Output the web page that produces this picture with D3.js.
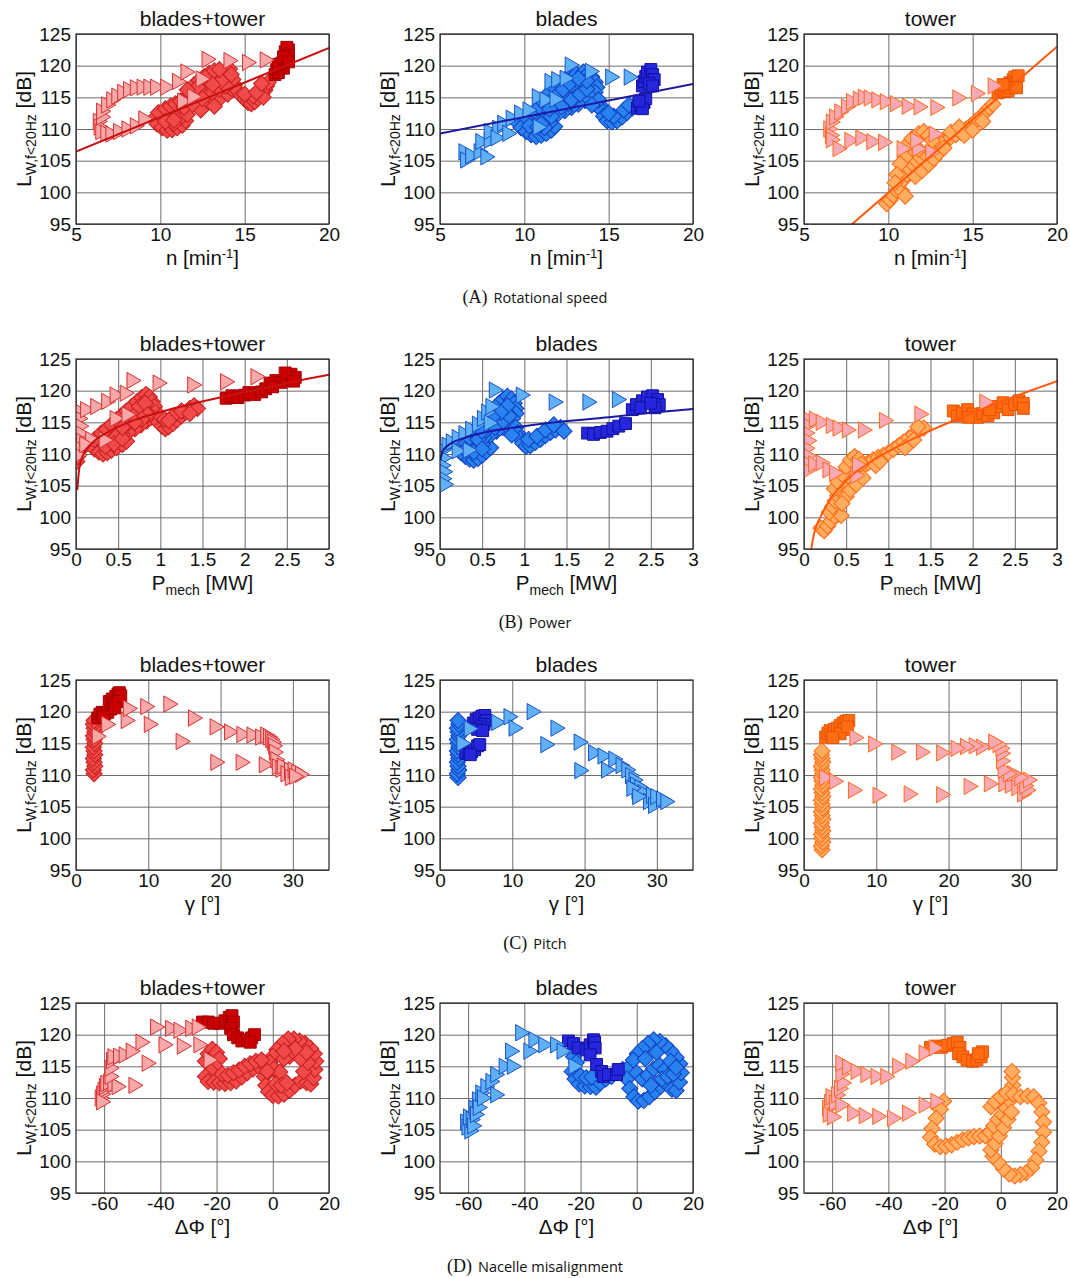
<!DOCTYPE html>
<html>
<head>
<meta charset="utf-8">
<script src="https://cdn.jsdelivr.net/npm/d3@7"></script>
<style>
  body { margin: 0; background: #fff; }
  text { font-family: "Liberation Sans", Arial, sans-serif; fill: #111; }
</style>
</head>
<body>
<svg id="fig" width="1070" height="1278"></svg>
<script>
// ---------- data ----------
var levelTicks = [95, 100, 105, 110, 115, 120, 125];
var rpmTicks = [5, 10, 15, 20];
var powerTicks = [0, 0.5, 1, 1.5, 2, 2.5, 3];
var pitchTicks = [0, 10, 20, 30];
var yawTicks = [-60, -40, -20, 0, 20];
var columnTitles = ["blades+tower", "blades", "tower"];

// (A) rotational speed n [1/min]
var rpmBothTri = [[6.3,111.2],[6.35,110.3],[6.45,109.6],[6.5,111.9],[6.75,109.3],[7.05,109.2],[7.5,109.6],[8.0,110.0],[8.5,110.5],[9.0,111.6],
  [6.5,112.8],[6.8,113.8],[7.1,114.6],[7.4,115.2],[7.75,115.8],[8.1,116.2],[8.5,116.5],[8.9,116.6],[9.3,116.6],[9.7,116.6],[10.3,116.6],[11.0,117.5],[11.5,119.0],
  [12.75,121.0],[14.05,120.8],[15.15,120.5],[16.2,120.9],[11.3,114.4],[11.9,115.1],[12.4,117.9]];
var rpmBothDia = [[9.7,111.8],[9.8,110.8],[10.1,110.2],[10.4,109.8],[10.7,109.9],[11.0,110.2],[11.3,110.6],[11.5,111.3],[11.2,111.8],[10.9,112.2],[10.6,112.6],[10.2,112.4],[9.9,112.6],
  [10.3,113.2],[10.6,113.6],[10.9,114.0],[11.2,114.4],[11.5,114.9],[11.8,115.4],[12.1,115.9],[12.4,116.4],[12.7,116.9],[13.0,117.5],[13.3,118.1],[13.6,118.7],[13.9,119.2],[14.1,119.5],
  [12.0,117.0],[12.3,117.7],[12.6,118.3],[12.9,118.8],[13.2,119.2],
  [12.0,114.2],[12.4,114.0],[12.8,114.3],[13.2,114.6],[13.6,115.0],[14.0,115.5],[14.3,116.2],[14.4,117.0],[14.3,117.8],[14.2,118.6],
  [14.6,116.0],[14.8,115.3],[15.0,114.7],[15.2,114.2],[15.4,114.0],[15.6,114.3],[15.8,114.8],[16.0,115.4],[16.2,116.1],[16.3,116.8],[16.4,117.4],[16.1,115.0],[15.5,115.2],
  [10.8,110.9],[11.6,112.3],[12.4,113.0],[13.2,113.6],
  [12.6,115.3],[13.1,115.8],[13.5,116.3],[13.9,116.8],[13.6,117.6],[13.1,117.0],[12.2,116.6],[11.6,116.2],[11.4,113.4],[11.9,113.9],[12.5,114.8],[13.5,119.4],
  [10.3,111.2],[10.8,111.4],[15.0,115.5],[15.7,115.8],[16.0,117.2]];
var rpmBothSq = [[16.8,118.6],[16.9,119.4],[17.0,118.9],[17.1,119.8],[17.2,120.4],[17.3,119.6],[17.0,120.2],[17.4,121.0],[17.5,121.6],[17.4,122.2],[17.6,122.5],[17.5,122.9],[17.6,121.6],[17.3,121.4],[17.6,120.6]];
var rpmBothFit = [[5, 106.45], [20, 122.8]];

var rpmBladeTri = [[6.4,106.4],[6.5,105.1],[6.8,105.8],[7.3,106.4],[7.7,105.6],[7.4,108.0],[7.9,108.2],[7.9,109.6],[8.4,110.1],[8.7,110.9],[9.2,111.7],[9.7,112.5],[10.2,113.0],
  [10.75,115.1],[11.5,117.5],[11.9,117.8],[12.4,118.0],[12.7,120.1],[13.9,119.1],[15.1,118.2],[16.2,118.2],[8.3,108.6],[9.0,109.3],[10.8,110.3],[11.2,114.6],[11.8,114.7]];
var rpmBladeDia = [[9.6,111.0],[9.8,110.2],[10.1,109.6],[10.4,109.1],[10.7,108.8],[11.0,109.0],[11.3,109.3],[11.6,109.8],[11.8,110.4],[11.5,111.0],[11.2,111.4],[10.9,111.8],[10.5,112.0],[10.1,111.8],
  [10.6,112.8],[10.9,113.5],[11.1,114.3],[11.3,115.0],[11.5,115.8],[11.8,116.5],[12.1,117.2],[12.4,117.8],[12.8,118.3],[13.1,118.7],[13.5,119.0],[13.8,118.8],[14.0,118.2],[14.2,117.4],[14.3,116.6],[14.2,115.8],[13.9,115.1],[13.6,114.5],[13.2,113.9],[12.8,113.4],[12.4,112.9],[12.0,112.4],[11.6,112.0],
  [12.0,114.5],[12.5,115.5],[12.9,116.4],[13.3,117.2],[13.0,115.0],[12.6,114.0],
  [14.5,113.8],[14.6,112.9],[14.7,112.0],[14.9,111.3],[15.2,111.1],[15.5,111.3],[15.8,111.9],[16.1,112.6],[16.4,113.3],[16.6,113.9],[14.4,114.6],[14.0,113.8],
  [10.3,110.5],[10.8,110.3],[11.2,110.2],[11.0,110.8],[12.2,113.5],[12.8,114.6],[13.3,115.5],[13.7,116.3],[13.7,117.6],[13.2,118.0],[12.6,117.0],[12.2,116.0],[11.8,115.0],[11.5,113.2],[15.3,112.0],[15.9,113.0],[16.2,113.8],[15.0,112.5]];
var rpmBladeSq = [[17.0,116.8],[17.1,117.5],[17.2,118.3],[17.3,119.0],[17.5,119.4],[17.6,118.6],[17.7,117.8],[17.4,117.2],[17.6,116.8],[16.7,113.3],[16.9,113.7],[17.1,114.2],[17.2,114.8],[17.0,113.2],[16.8,114.4]];
var rpmBladeFit = [[5, 109.3], [20, 117.1]];

var rpmTowerTri = [[6.45,110.0],[6.55,109.0],[6.6,111.1],[6.8,111.9],[7.1,112.7],[7.5,113.5],[7.8,114.3],[8.2,114.7],[8.5,115.0],[8.85,114.9],[9.3,114.6],[9.8,114.3],[10.4,114.0],[11.1,113.6],[11.8,113.5],[12.8,113.4],[14.1,114.9],[15.2,115.6],[16.2,116.8],
  [6.6,108.3],[7.0,106.9],[7.7,108.2],[8.35,108.6],[9.0,108.0],[9.7,107.9],[10.8,106.9],[11.7,106.9],[12.5,106.3],[12.7,109.2],[11.6,108.2]];
var rpmTowerDia = [[9.9,98.2],[10.1,98.8],[10.3,99.5],[10.5,100.3],[10.6,101.2],[10.8,100.2],[11.0,99.4],[10.9,102.0],[11.1,102.8],[11.3,103.6],[11.5,104.3],[11.7,104.9],[11.9,105.5],[12.2,106.0],[12.5,106.6],[12.8,107.2],[13.1,107.7],[13.4,108.2],[13.7,108.7],[14.0,109.1],[14.3,109.5],[14.6,110.0],[14.9,110.6],[15.2,111.3],[15.5,112.0],[15.8,112.8],[16.0,113.4],[16.2,113.9],
  [11.3,106.5],[11.1,107.5],[11.4,108.5],[11.8,109.3],[12.1,109.6],[12.4,109.0],[12.6,108.2],[11.0,105.5],[10.7,104.5],[11.6,102.5],[12.0,103.4],[12.4,104.4],[12.7,105.3],[13.0,106.2],[13.3,107.0],[10.5,102.8],[10.4,101.5],[11.8,106.8],[13.7,109.5],[14.2,110.3],[14.5,109.0],[15.0,109.8],[15.6,111.2]];
var rpmTowerSq = [[16.5,115.7],[16.7,116.3],[16.9,115.9],[17.0,116.8],[17.2,117.3],[17.1,116.0],[17.4,117.8],[17.5,118.2],[17.6,117.4],[17.7,118.4],[17.3,116.5],[16.8,117.0],[17.6,116.5]];
var rpmTowerFit = [[7.6, 94.4], [20, 123.0]];

// (B) mechanical power P [MW]
var powerBothTri = [[0.02,116.8],[0.03,115.6],[0.04,114.4],[0.05,113.2],[0.06,112.0],[0.04,110.8],[0.02,109.8],
  [0.11,117.0],[0.23,117.5],[0.36,118.3],[0.46,119.3],[0.58,119.6],[0.66,121.6],[0.97,121.2],[1.38,120.9],[1.77,121.4],[2.13,122.2],
  [0.46,115.6],[0.6,116.2],[0.33,112.2],[0.17,112.3],[0.1,111.5]];
var powerBothDia = [[0.01,108.8],[0.02,109.6],[0.03,110.4],[0.05,111.2],[0.08,111.0],
  [0.18,111.5],[0.22,110.8],[0.27,110.3],[0.32,110.0],[0.37,110.2],[0.42,110.6],[0.48,111.0],[0.55,111.5],[0.6,112.0],[0.5,112.3],[0.4,112.5],[0.3,112.6],[0.22,112.3],
  [0.3,113.3],[0.36,113.9],[0.42,114.6],[0.48,115.4],[0.54,116.1],[0.6,116.8],[0.66,117.5],[0.72,118.2],[0.78,118.9],[0.83,119.4],[0.87,119.0],[0.9,118.3],[0.93,117.5],[0.94,116.6],[0.9,115.8],[0.84,115.2],[0.77,114.6],[0.7,114.0],[0.62,113.4],[0.55,113.0],[0.47,112.7],
  [0.65,115.5],[0.72,116.4],[0.8,117.2],[0.6,114.6],
  [0.98,115.0],[1.02,114.4],[1.06,114.0],[1.1,114.3],[1.15,114.8],[1.2,115.4],[1.25,116.0],[1.3,116.6],[1.35,117.2],[1.4,117.6],[1.44,117.2],[1.0,116.0],[1.05,115.5],
  [0.35,111.2],[0.45,111.6],[0.55,112.4],[0.68,116.0],[0.75,117.5],[0.82,118.0],[0.85,116.2],[0.78,115.5],[0.7,115.0],[0.55,114.2],[1.15,116.0],[1.25,116.8],[1.1,115.3],[1.35,116.4]];
var powerBothSq = [[1.78,118.8],[1.85,119.2],[1.92,118.9],[2.0,119.3],[2.05,119.7],[2.12,119.4],[2.2,119.8],[2.25,120.3],[2.3,121.2],[2.37,121.6],[2.43,121.3],[2.5,122.0],[2.55,122.6],[2.6,122.1],[2.48,122.8],[2.58,121.5],[2.33,120.6]];
var powerBothFit = [[0.015,104.3],[0.04,107.8],[0.09,110.0],[0.19,111.7],[0.4,113.6],[0.68,115.3],[1.08,116.9],[1.47,118.2],[1.87,119.4],[2.27,120.5],[2.65,121.6],[3.0,122.5]];

var powerBladeTri = [[0.02,110.6],[0.03,109.4],[0.02,108.2],[0.04,107.2],[0.03,106.1],[0.05,105.2],
  [0.08,111.4],[0.13,111.9],[0.2,112.6],[0.28,113.2],[0.36,113.9],[0.44,114.7],[0.5,115.6],[0.55,116.6],[0.6,117.5],[0.64,120.1],[0.96,119.3],[1.35,118.2],[1.75,118.2],[2.1,118.6],
  [0.2,110.5],[0.33,110.6],[0.58,114.9]];
var powerBladeDia = [[0.22,111.0],[0.25,110.2],[0.3,109.6],[0.35,109.2],[0.4,109.0],[0.45,109.3],[0.5,109.8],[0.55,110.4],[0.6,111.0],[0.5,111.5],[0.4,111.8],[0.3,111.8],
  [0.35,112.6],[0.4,113.4],[0.45,114.2],[0.5,115.0],[0.55,115.8],[0.6,116.6],[0.65,117.3],[0.7,118.0],[0.75,118.6],[0.8,119.1],[0.85,118.7],[0.88,118.0],[0.9,117.2],[0.9,116.4],[0.86,115.6],[0.8,114.9],[0.74,114.2],[0.67,113.6],[0.6,113.0],[0.52,112.6],[0.45,112.3],
  [0.6,114.8],[0.68,115.8],[0.76,116.8],[0.7,114.9],
  [0.9,114.2],[0.92,113.3],[0.95,112.4],[0.98,111.7],[1.02,111.2],[1.07,111.3],[1.13,111.8],[1.19,112.3],[1.25,112.9],[1.31,113.4],[1.37,113.8],[1.43,114.2],[1.47,113.6],[0.85,113.0],
  [0.3,110.6],[0.4,110.3],[0.5,110.8],[0.55,113.8],[0.65,114.2],[0.75,115.2],[0.82,116.0],[0.8,117.6],[0.72,116.6],[0.62,115.8],[0.5,113.6],[1.05,112.3],[1.15,112.8],[1.25,113.8],[1.35,114.6]];
var powerBladeSq = [[1.75,113.3],[1.82,113.1],[1.9,113.4],[1.98,113.6],[2.05,114.0],[2.12,114.4],[2.2,114.8],[2.28,117.0],[2.33,117.8],[2.4,118.4],[2.46,119.0],[2.52,119.2],[2.58,118.6],[2.6,117.8],[2.55,117.3],[2.38,117.3],[2.5,118.0]];
var powerBladeFit = [[0.005,109.0],[0.03,110.4],[0.09,111.3],[0.28,112.5],[0.56,113.5],[0.95,114.3],[1.5,115.2],[2.0,115.8],[2.5,116.5],[3.0,117.1]];

var powerTowerTri = [[0.02,115.6],[0.03,114.5],[0.02,113.3],[0.04,112.1],[0.02,110.9],[0.04,109.7],[0.02,108.6],[0.03,107.4],
  [0.12,115.5],[0.2,115.0],[0.32,114.5],[0.4,114.1],[0.51,113.8],[0.7,113.8],[0.95,115.3],[1.37,116.3],[2.14,118.2],
  [0.11,108.4],[0.2,108.6],[0.28,107.5],[0.36,107.0],[0.61,106.6],[0.63,108.3]];
var powerTowerDia = [[0.2,98.3],[0.24,97.9],[0.28,98.6],[0.32,99.4],[0.36,100.2],[0.4,100.9],[0.44,100.3],[0.3,100.8],[0.34,101.7],[0.37,102.6],[0.4,103.4],[0.44,104.1],[0.48,104.8],[0.52,105.4],[0.56,106.1],[0.6,106.8],[0.65,107.4],[0.7,108.0],[0.76,108.6],[0.82,109.1],[0.88,109.5],[0.94,109.8],[1.0,110.2],[1.06,110.7],[1.12,111.3],[1.18,111.9],[1.24,112.5],[1.3,113.1],[1.36,113.7],[1.42,114.1],
  [0.36,104.5],[0.4,105.6],[0.45,106.8],[0.5,108.0],[0.55,109.0],[0.6,109.6],[0.65,109.2],[0.68,108.4],[0.5,103.3],[0.55,104.3],[0.62,105.2],[0.7,106.2],[0.45,102.2],[0.85,108.2],[0.9,108.8],[1.2,111.0],[1.3,112.2],[1.35,114.3]];
var powerTowerSq = [[1.77,116.8],[1.82,116.0],[1.88,116.5],[1.94,117.0],[2.0,116.3],[2.06,115.8],[2.12,116.4],[2.18,116.0],[2.25,116.5],[2.3,117.5],[2.36,118.1],[2.42,117.0],[2.5,117.8],[2.55,118.4],[2.6,118.0],[2.6,117.2],[2.2,117.0],[1.95,115.8]];
var powerTowerFit = [[0.085,95.0],[0.12,97.5],[0.2,100.2],[0.32,103.0],[0.5,105.8],[0.75,108.4],[1.0,110.4],[1.5,113.7],[2.0,116.5],[2.5,119.1],[3.0,121.5]];

// (C) pitch angle gamma [deg]
var pitchBothTri = [[2.9,116.1],[4.2,118.0],[6.9,118.6],[7.2,120.5],[9.6,120.8],[10.1,118.0],[12.8,121.2],[14.5,115.3],[16.2,119.0],[19.2,117.6],[19.3,112.0],[21.2,116.8],[22.8,112.0],[22.9,116.4],[24.3,116.3],[25.5,116.0],[26.0,111.6],[26.2,116.3],[26.6,116.0],[26.9,115.6],[27.1,115.2],[27.3,114.6],[27.4,113.6],[27.6,112.4],[27.8,111.3],[28.3,110.9],[28.5,111.4],[29.0,110.2],[29.5,110.7],[29.6,109.6],[30.0,110.8],[30.5,110.4],[31.0,110.1],[30.2,109.8]];
var pitchBothDia = [[2.5,110.2],[2.4,110.8],[2.6,111.4],[2.5,112.0],[2.4,112.6],[2.6,113.2],[2.5,113.8],[2.4,114.4],[2.6,115.0],[2.5,115.6],[2.4,116.2],[2.6,116.8],[2.5,117.4],[2.4,118.0],[2.5,118.6]];
var pitchBothSq = [[3.0,119.0],[3.3,119.6],[3.6,119.9],[4.0,119.7],[4.4,119.9],[4.8,120.4],[4.6,121.6],[5.0,122.0],[5.2,121.2],[5.5,122.4],[5.8,122.8],[6.0,123.0],[6.2,122.5],[5.9,121.6],[5.4,120.6],[3.8,119.2]];

var pitchBladeTri = [[3.0,115.0],[4.0,117.3],[7.8,118.3],[9.5,119.2],[10.2,117.4],[12.7,120.0],[14.6,114.8],[16.0,117.4],[19.2,115.2],[19.3,110.7],[21.2,113.5],[22.5,113.0],[23.0,110.8],[24.0,112.5],[25.0,111.5],[25.8,110.8],[26.3,109.9],[26.8,109.2],[27.0,108.4],[27.2,107.5],[27.6,108.0],[28.0,107.2],[28.8,105.8],[29.2,106.8],[29.5,105.2],[29.8,106.6],[30.6,106.2],[31.2,105.8],[26.5,107.9],[27.3,106.6]];
var pitchBladeDia = [[2.5,109.6],[2.4,110.2],[2.6,110.8],[2.5,111.4],[2.4,112.0],[2.6,112.6],[2.5,113.2],[2.4,113.8],[2.6,114.4],[2.5,115.0],[2.4,115.6],[2.6,116.2],[2.5,116.8],[2.4,117.4],[2.6,118.0],[2.5,118.6]];
var pitchBladeSq = [[4.6,118.2],[5.0,118.8],[5.4,119.0],[5.8,119.3],[6.2,119.4],[6.4,118.6],[6.1,118.0],[5.6,117.6],[5.2,117.2],[5.9,117.0],
  [3.6,113.4],[4.0,113.5],[4.4,113.7],[4.8,114.0],[5.2,114.6],[5.5,114.8],[4.2,113.2]];

var pitchTowerTri = [[2.8,109.6],[4.2,109.0],[6.8,107.6],[10.2,106.8],[14.5,107.0],[19.0,106.9],[22.8,108.2],[25.6,108.6],[27.6,108.6],[28.5,108.4],[29.4,108.0],[30.2,107.0],[30.8,107.6],[30.5,108.3],[31.0,109.2],[29.8,109.6],[28.8,110.2],[28.2,110.2],[27.5,110.8],[27.3,112.2],[27.3,113.4],[27.2,114.2],[26.8,114.8],[26.2,115.2],[24.5,114.4],[23.5,114.6],[22.3,114.5],[21.0,114.2],[19.0,113.5],[16.2,113.6],[12.8,113.6],[9.6,114.9],[7.0,115.9]];
var pitchTowerDia = [[2.5,98.2],[2.4,98.8],[2.6,99.4],[2.5,100.0],[2.4,100.6],[2.6,101.2],[2.5,101.8],[2.4,102.4],[2.6,103.0],[2.5,103.6],[2.4,104.2],[2.6,104.8],[2.5,105.4],[2.4,106.0],[2.6,106.6],[2.5,107.2],[2.4,107.8],[2.6,108.4],[2.5,109.0],[2.4,109.6],[2.6,110.2],[2.5,110.8],[2.4,111.4],[2.6,112.0],[2.5,112.6],[2.4,113.2],[2.5,113.8]];
var pitchTowerSq = [[3.0,116.0],[3.3,116.6],[3.6,117.0],[3.9,116.5],[4.2,117.2],[4.6,117.4],[5.0,117.8],[5.4,118.2],[5.8,118.5],[6.2,118.6],[5.6,117.2],[5.0,116.5],[4.0,115.9],[6.0,117.6]];

// (D) nacelle misalignment dPhi [deg]
var yawBothTri = [[-61.5,110.0],[-61,110.6],[-60.5,111.2],[-61,109.4],[-60,111.8],[-59.5,112.3],[-58.5,112.5],[-57,112.2],[-55.5,111.8],[-49.5,112.0],
  [-58,113.4],[-58,114.7],[-57.5,115.9],[-57,116.5],[-55,116.6],[-53,116.8],[-50.5,117.4],[-47,118.8],[-44.8,115.5],[-41.8,121.2],[-38.8,118.4],[-36.5,121.0],[-33.5,120.7],[-32.3,118.2],[-29.3,121.0],[-27,121.2],[-26.4,118.4],[-22.8,116.0]];
var yawBothDia = [[-24,115.8],[-23,117.0],[-21.5,117.7],[-20,117.2],[-19,116.2],[-20.5,115.0],[-22,114.2],[-24,113.4],[-23,112.6],[-21,112.5],[-19,112.4],[-17,112.3],[-15,112.4],[-13,112.7],[-11,113.3],[-9,114.0],[-7,114.6],[-5,115.0],[-3,115.2],
  [-3,113.4],[-2.5,112.0],[-1.5,111.0],[0,110.4],[2,110.3],[4,110.6],[6,111.2],[8,112.0],[10,112.7],[12,112.4],[13.5,112.2],[14.5,113.2],[15,114.5],[15.3,115.8],[14.8,117.0],[13.5,117.8],[11.5,118.6],[9.5,119.0],[7.5,119.3],[5.5,119.3],[3.5,118.6],[1.5,117.6],[0,116.6],[-1,115.6],
  [0.5,114.6],[2.5,114.1],[11,114.2],[12.5,115.6],[6,116.6],[4,116.2],
  [-18,113.8],[-16,113.6],[-14,114.0],[-12,114.4],[-10,115.0],[-8,115.4],[-6,115.8],[-4,116.0],[-2,114.2],[1,112.2],[3,112.0],[5,112.4],[10,116.2],[12,117.2],[8,117.8],[4,117.4]];
var yawBothSq = [[-25,122.0],[-23,122.0],[-21,121.8],[-19,121.8],[-17,122.2],[-15.5,122.7],[-14.5,123.0],[-14,122.0],[-15,121.0],[-14,120.0],[-12.5,119.5],[-11,119.0],[-9,119.2],[-7.5,119.5],[-6.5,120.0],[-8,118.8]];

var yawBladeTri = [[-61,106.2],[-60.5,105.4],[-59.5,104.8],[-60,107.0],[-59,106.6],[-58.5,105.6],[-58,108.4],[-57.5,107.4],[-56.8,109.7],[-56.5,108.5],[-55.6,110.8],[-53.8,111.8],[-52,112.6],[-50.3,113.7],[-50.3,110.5],[-47.3,115.0],[-44.4,115.0],[-45,117.4],[-41.4,120.3],[-38.5,117.4],[-36.7,119.2],[-33.2,118.4],[-29,118.4],[-26.7,117.4],[-22.5,115.0],[-55,110.0]];
var yawBladeDia = [[-22.5,116.5],[-21.5,115.6],[-23,114.2],[-22,113.0],[-20.5,112.2],[-18.5,111.9],[-16.5,111.8],[-14.5,111.7],[-13,112.4],[-11,113.0],[-9,113.4],[-7,114.0],[-5,114.5],
  [-3,114.8],[-3.5,113.0],[-2.5,111.5],[-1,110.2],[0.5,109.5],[2.5,109.6],[4.5,110.2],[6.5,111.0],[8.5,111.8],[10.5,112.3],[12.5,111.4],[14,111.2],[15.2,112.5],[15.8,114.0],[15.3,115.4],[14,116.4],[12.2,117.4],[10.2,118.3],[8.2,118.9],[6,119.2],[4,118.6],[2,117.8],[0.2,117.0],[-1.2,116.0],
  [0,114.0],[2,113.0],[4,113.6],[6,114.6],[8,115.2],[5,112.0],[10,114.5],[12,115.8],
  [-20,113.5],[-18,113.2],[-16,113.3],[-12,113.8],[9,113.0],[11,113.4],[13,113.8],[14,114.8],[7,117.2],[3,116.2]];
var yawBladeSq = [[-24.3,119.0],[-22.5,118.6],[-20.8,117.9],[-17.8,117.6],[-16.6,118.4],[-15.4,119.2],[-15.0,118.8],[-14.8,117.9],[-16.6,116.8],[-14.3,115.3],[-12.5,114.2],[-11.9,113.4],[-10.1,113.7],[-7.2,113.7],[-6.6,114.5]];

var yawTowerTri = [[-61.7,108.4],[-61,109.3],[-60.5,110.2],[-61.5,107.4],[-60,107.0],[-59.3,109.2],[-58.5,110.5],[-57,108.9],[-57.5,111.5],[-56.4,112.4],[-57,113.8],[-57,115.5],[-54.6,114.9],[-51.6,114.2],[-48.1,113.7],[-44.5,113.4],[-41,113.4],[-36.8,115.0],[-32.1,115.8],[-27.4,117.1],[-23.8,117.9],
  [-52.8,107.6],[-48.7,107.2],[-43.9,107.1],[-38.6,106.8],[-33.3,107.6],[-27.4,108.9],[-23.2,109.5]];
var yawTowerDia = [[-20.3,109.5],[-21.5,108.2],[-23,106.8],[-24.5,105.2],[-25,103.8],[-23.5,102.7],[-21.5,102.3],[-19.5,102.4],[-17.5,102.6],[-15.5,103.0],[-13.5,103.4],[-11.5,103.7],[-9.5,103.9],[-7.5,104.0],[-5.5,104.0],[-3.8,104.6],[-2.5,105.6],[-1,106.6],[0.5,107.4],[2,108.4],[3.2,109.6],[4,110.8],[4.3,112.0],[4.2,113.2],[4.0,114.2],
  [-3.5,108.6],[-2,109.4],[0,110.2],[2,110.8],[4.5,110.6],[7,110.2],[9.5,110.3],[11.7,110.2],[13.5,109.2],[14.6,107.8],[15.2,106.2],[15.2,104.6],[14.6,103.0],[13.6,101.6],[12.5,100.2],[11,99.0],[9,98.2],[7,97.9],[5,97.7],[3,98.0],[1,98.8],[-0.8,99.8],[-2.8,100.8],[-3.5,101.8],[-2,102.8],[-0.5,104.0],[1,105.3],[2.5,106.6],[3.8,107.8]];
var yawTowerSq = [[-25,118.0],[-23,118.2],[-21,118.0],[-19,118.3],[-17,118.6],[-15.5,118.8],[-14.5,118.0],[-15,117.0],[-13.5,116.5],[-12,116.0],[-10,115.8],[-8.5,116.0],[-7,116.5],[-6.5,117.3],[-8,117.0]];

// ---------- layout / style ----------
var colLeft = [76, 440, 804];
var rowTop = [34, 359, 680, 1003];
var pw = 253, ph = 190;

var palette = [
  { tri: "#f7a9a9", triLine: "#d93030", dia: "#f04a4a", diaLine: "#c81e1e", sq: "#cc0000", sqLine: "#a00000", fit: "#c81010" },
  { tri: "#5fb0f4", triLine: "#1a52c8", dia: "#2a82ee", diaLine: "#1040c4", sq: "#2626dc", sqLine: "#1010a0", fit: "#1a1aa6" },
  { tri: "#f8a9b6", triLine: "#ff6a1a", dia: "#ffad5e", diaLine: "#ff6a18", sq: "#ff6c12", sqLine: "#e85200", fit: "#ff5a10" }
];

var rows = [
  { domain: [5, 20], ticks: rpmTicks, xlabel: "rpm", tag: "(A)", caption: "Rotational speed",
    sets: [[rpmBothTri, rpmBothDia, rpmBothSq, rpmBothFit], [rpmBladeTri, rpmBladeDia, rpmBladeSq, rpmBladeFit], [rpmTowerTri, rpmTowerDia, rpmTowerSq, rpmTowerFit]] },
  { domain: [0, 3], ticks: powerTicks, xlabel: "power", tag: "(B)", caption: "Power",
    sets: [[powerBothTri, powerBothDia, powerBothSq, powerBothFit], [powerBladeTri, powerBladeDia, powerBladeSq, powerBladeFit], [powerTowerTri, powerTowerDia, powerTowerSq, powerTowerFit]] },
  { domain: [0, 35], ticks: pitchTicks, xlabel: "pitch", tag: "(C)", caption: "Pitch",
    sets: [[pitchBothTri, pitchBothDia, pitchBothSq, null], [pitchBladeTri, pitchBladeDia, pitchBladeSq, null], [pitchTowerTri, pitchTowerDia, pitchTowerSq, null]] },
  { domain: [-70, 20], ticks: yawTicks, xlabel: "yaw", tag: "(D)", caption: "Nacelle misalignment",
    sets: [[yawBothTri, yawBothDia, yawBothSq, null], [yawBladeTri, yawBladeDia, yawBladeSq, null], [yawTowerTri, yawTowerDia, yawTowerSq, null]] }
];

var svg = d3.select("#fig");
var tri = d3.symbol().type(d3.symbolTriangle).size(115);
var dia = d3.symbol().type(d3.symbolSquare).size(130);
var sq = d3.symbol().type(d3.symbolSquare).size(140);

function xLabel(g, kind) {
  var t = g.append("text").attr("x", pw / 2).attr("y", ph + 41)
    .attr("text-anchor", "middle").attr("font-size", 20.5);
  if (kind === "rpm") {
    t.append("tspan").text("n [min");
    t.append("tspan").attr("font-size", 13).attr("dy", -7).text("-1");
    t.append("tspan").attr("dy", 7).text("]");
  } else if (kind === "power") {
    t.append("tspan").text("P");
    t.append("tspan").attr("font-size", 14).attr("dy", 5).text("mech");
    t.append("tspan").attr("dy", -5).text(" [MW]");
  } else if (kind === "pitch") {
    t.text("\u03b3 [\u00b0]");
  } else {
    t.text("\u0394\u03a6 [\u00b0]");
  }
}

function drawPanel(r, c) {
  var row = rows[r], set = row.sets[c], col = palette[c];
  var g = svg.append("g").attr("transform", "translate(" + colLeft[c] + "," + rowTop[r] + ")");
  var x = d3.scaleLinear().domain(row.domain).range([0, pw]);
  var y = d3.scaleLinear().domain([95, 125]).range([ph, 0]);
  var clipId = "clip" + r + c;

  g.append("clipPath").attr("id", clipId).append("rect").attr("width", pw).attr("height", ph);

  // grid
  var gx = g.append("g").attr("transform", "translate(0," + ph + ")")
    .call(d3.axisBottom(x).tickValues(row.ticks).tickSize(-ph).tickFormat(""));
  var gy = g.append("g")
    .call(d3.axisLeft(y).tickValues(levelTicks).tickSize(-pw).tickFormat(""));
  [gx, gy].forEach(function(a) {
    a.select(".domain").remove();
    a.selectAll("line").attr("stroke", "#6e6e6e").attr("stroke-width", 1);
  });

  // tick labels
  var lx = g.append("g").attr("transform", "translate(0," + ph + ")")
    .call(d3.axisBottom(x).tickValues(row.ticks).tickSize(0).tickPadding(4).tickFormat(function(d) { return String(d); }));
  var ly = g.append("g")
    .call(d3.axisLeft(y).tickValues(levelTicks).tickSize(0).tickPadding(5));
  [lx, ly].forEach(function(a) {
    a.select(".domain").remove();
    a.selectAll("text").attr("font-size", 19).attr("font-family", "Liberation Sans, Arial, sans-serif").attr("fill", "#111");
  });

  // marks
  var marks = g.append("g").attr("clip-path", "url(#" + clipId + ")");
  marks.selectAll("path.dia").data(set[1]).enter().append("path").attr("class", "dia")
    .attr("d", dia)
    .attr("transform", function(d) { return "translate(" + x(d[0]) + "," + y(d[1]) + ") rotate(45)"; })
    .attr("fill", col.dia).attr("stroke", col.diaLine).attr("stroke-width", 1);
  marks.selectAll("path.sq").data(set[2]).enter().append("path").attr("class", "sq")
    .attr("d", sq)
    .attr("transform", function(d) { return "translate(" + x(d[0]) + "," + y(d[1]) + ")"; })
    .attr("fill", col.sq).attr("stroke", col.sqLine).attr("stroke-width", 1);
  marks.selectAll("path.tri").data(set[0]).enter().append("path").attr("class", "tri")
    .attr("d", tri)
    .attr("transform", function(d) { return "translate(" + x(d[0]) + "," + y(d[1]) + ") rotate(90)"; })
    .attr("fill", col.tri).attr("stroke", col.triLine).attr("stroke-width", 1);

  if (set[3]) {
    var line = d3.line().x(function(d) { return x(d[0]); }).y(function(d) { return y(d[1]); })
      .curve(d3.curveMonotoneX);
    marks.append("path").datum(set[3]).attr("d", line)
      .attr("fill", "none").attr("stroke", col.fit).attr("stroke-width", 2);
  }

  // frame
  g.append("rect").attr("width", pw).attr("height", ph)
    .attr("fill", "none").attr("stroke", "#222").attr("stroke-width", 1.2);

  // titles
  g.append("text").attr("x", pw / 2).attr("y", -8).attr("text-anchor", "middle")
    .attr("font-size", 21).text(columnTitles[c]);

  var yl = g.append("text").attr("transform", "translate(-45," + (ph / 2) + ") rotate(-90)")
    .attr("text-anchor", "middle").attr("font-size", 21);
  yl.append("tspan").text("L");
  yl.append("tspan").attr("font-size", 14).attr("dy", 5).text("W,f<20Hz");
  yl.append("tspan").attr("dy", -5).text(" [dB]");

  xLabel(g, row.xlabel);
}

rows.forEach(function(row, r) {
  [0, 1, 2].forEach(function(c) { drawPanel(r, c); });
  var cap = svg.append("text").attr("x", 535).attr("y", rowTop[r] + 269).attr("text-anchor", "middle");
  cap.append("tspan").attr("font-family", "Liberation Serif, Times New Roman, serif").attr("font-size", 18).text(row.tag);
  cap.append("tspan").attr("font-family", "Open Sans, sans-serif").attr("font-size", 14.5).attr("dx", 6).text(row.caption);
});
</script>
</body>
</html>
